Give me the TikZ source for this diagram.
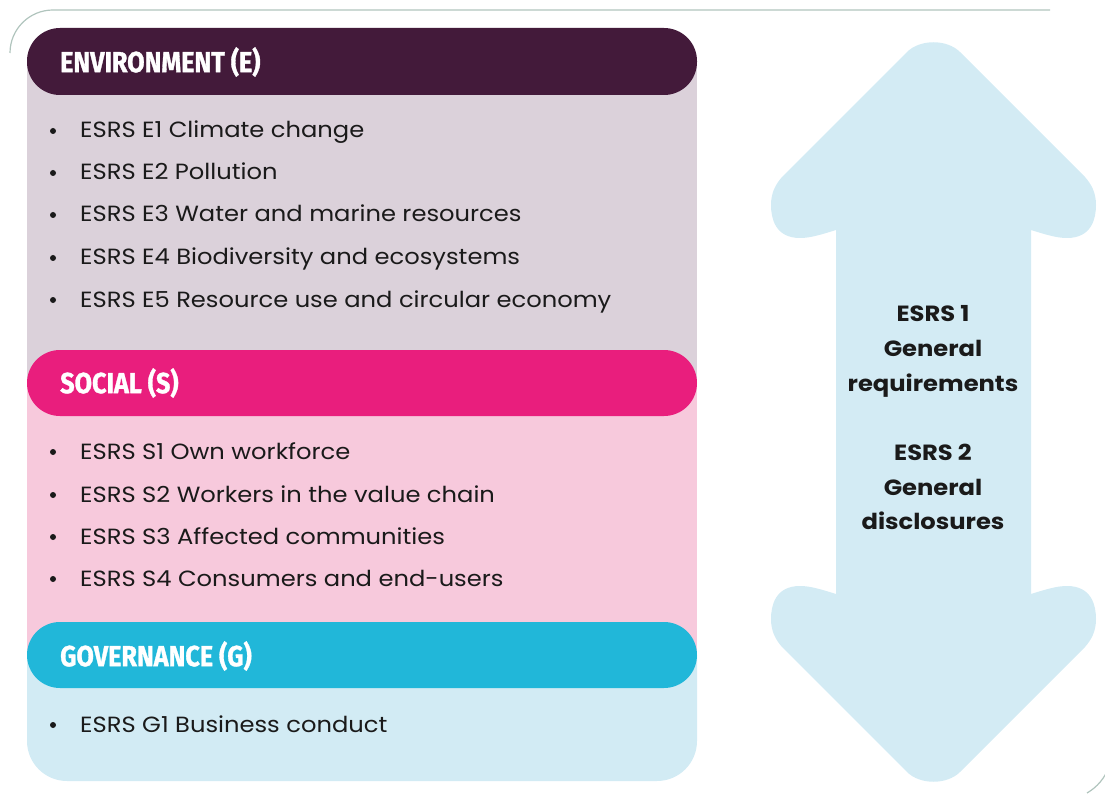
\documentclass[tikz,border=0pt]{standalone}
\usepackage{fontspec}
\setmainfont{Poppins}[FakeStretch=1.1]
\newfontfamily\hdfont{Fira Sans}[BoldFeatures={FakeBold=1.2}]
\definecolor{frameline}{HTML}{B0C4BD}
\definecolor{envdark}{HTML}{431A3A}
\definecolor{envbg}{HTML}{DBD1DA}
\definecolor{socdark}{HTML}{E91E7D}
\definecolor{socbg}{HTML}{F7C9DC}
\definecolor{govdark}{HTML}{21B7D9}
\definecolor{govbg}{HTML}{D2EBF4}
\definecolor{arrowfill}{HTML}{D3EBF4}
\definecolor{txt}{HTML}{1A1A1A}
\tikzset{
  pill/.style={rounded corners=33pt},
  hdr/.style={anchor=west, inner sep=0pt, text=white, font=\hdfont\bfseries\fontsize{29}{32}\selectfont},
  item/.style={anchor=base west, inner sep=0pt, text=txt, font=\fontsize{22}{26}\selectfont},
  bul/.style={circle, fill=txt, inner sep=0pt, minimum size=6pt},
  side/.style={anchor=base, inner sep=0pt, text=txt, font=\bfseries\fontsize{22}{26}\selectfont},
}
\newcommand{\hd}[1]{\scalebox{0.87}[1]{#1}}
\begin{document}
\begin{tikzpicture}[x=1pt,y=-1pt]
\useasboundingbox (0,0) rectangle (1105,794);
\clip (0,0) rectangle (1105,794);
% frame lines
\draw[frameline, line width=1.2pt] (10,53) arc[start angle=180, end angle=270, radius=43] -- (1050,10);
\draw[frameline, line width=1.2pt] (1087,793) arc[start angle=60, end angle=20, radius=50];
% backgrounds
\fill[envbg] (27,62) rectangle (697,390);
\fill[socbg] (27,383) rectangle (697,660);
\fill[govbg] (27,655) -- (697,655) -- (697,741) arc[start angle=0, end angle=90, radius=40] -- (67,781) arc[start angle=90, end angle=180, radius=40] -- cycle;
% pills
\fill[envdark, pill] (27,28) rectangle (697,95);
\fill[socdark, pill] (27,350) rectangle (697,416);
\fill[govdark, pill] (27,622) rectangle (697,688);
\node[hdr] (henv) at (60,62) {\hd{ENVIRONMENT (E)}};
\node[hdr] (hsoc) at (60,383) {\hd{SOCIAL (S)}};
\node[hdr] (hgov) at (60,656) {\hd{GOVERNANCE (G)}};
% items
\foreach \y/\t [count=\i] in {130/ESRS E1 Climate change, 172/ESRS E2 Pollution, 214/ESRS E3 Water and marine resources, 257/ESRS E4 Biodiversity and ecosystems, 299/ESRS E5 Resource use and circular economy, 451/ESRS S1 Own workforce, 494/ESRS S2 Workers in the value chain, 536/ESRS S3 Affected communities, 578/ESRS S4 Consumers and end-users, 724/ESRS G1 Business conduct}{
  \node[bul] (b\i) at (53,\y+1) {};
  \node[item] (t\i) at (80,\y+8) {\t};
}
% double arrow
\fill[arrowfill] (836,230) .. controls (820,235) and (810,238) .. (800,238)
  .. controls (775,238) and (771,218) .. (771,205)
  .. controls (771,192) and (776,184) .. (782,177) -- (907,52)
  .. controls (920,39) and (947,39) .. (960,52) -- (1085,177)
  .. controls (1091,184) and (1096,192) .. (1096,205)
  .. controls (1096,218) and (1092,238) .. (1067,238)
  .. controls (1057,238) and (1047,235) .. (1031,230) -- (1031,594)
  .. controls (1047,589) and (1057,586) .. (1067,586)
  .. controls (1092,586) and (1096,606) .. (1096,619)
  .. controls (1096,632) and (1091,640) .. (1085,647) -- (960,772)
  .. controls (947,785) and (920,785) .. (907,772) -- (782,647)
  .. controls (776,640) and (771,632) .. (771,619)
  .. controls (771,606) and (775,586) .. (800,586)
  .. controls (810,586) and (820,589) .. (836,594) -- cycle;
\node[side] (s1) at (933,321) {ESRS 1};
\node[side] (s2) at (933,356) {General};
\node[side] (s3) at (933,391) {requirements};
\node[side] (s4) at (933,460) {ESRS 2};
\node[side] (s5) at (933,495) {General};
\node[side] (s6) at (933,529) {disclosures};
\end{tikzpicture}
\end{document}
